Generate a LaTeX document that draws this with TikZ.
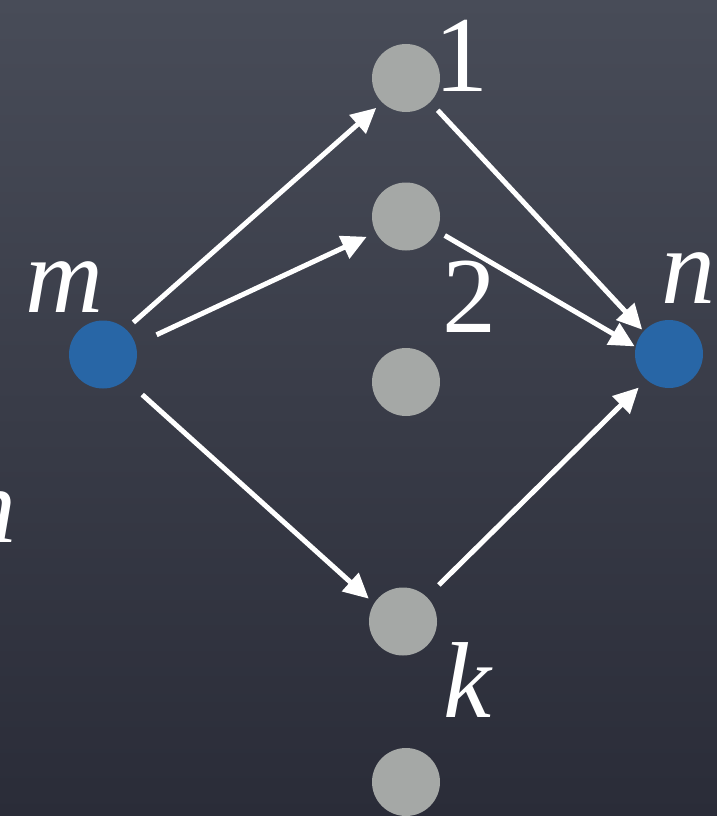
\documentclass[tikz,border=0pt]{standalone}
\usepackage{fontspec}
\setmainfont{Liberation Serif}
\usetikzlibrary{arrows.meta}
\definecolor{bgtop}{RGB}{72,76,88}
\definecolor{bgbot}{RGB}{42,44,56}
\definecolor{nodeblue}{RGB}{40,102,166}
\definecolor{nodegray}{RGB}{165,168,166}
\tikzset{
  dot/.style={circle, minimum size=68pt, inner sep=0pt, fill=#1},
  lbl/.style={text=white, inner sep=0pt, anchor=base, font=\fontsize{108}{108}\selectfont},
  arr/.style={draw=white, line width=5pt, -{Triangle[length=25pt,width=24pt]}},
}
\begin{document}
\begin{tikzpicture}[x=1pt,y=1pt]
\useasboundingbox (0,0) rectangle (717,-816);
\shade[top color=bgtop, bottom color=bgbot] (0,0) rectangle (717,-816);
\clip (0,0) rectangle (717,-816);
% nodes
\node[dot=nodeblue] (m) at (103,-354.5) {};
\node[dot=nodeblue] (n) at (669,-354) {};
\node[dot=nodegray] (a1) at (406,-78) {};
\node[dot=nodegray] (a2) at (406,-216.5) {};
\node[dot=nodegray] (a3) at (406,-382) {};
\node[dot=nodegray] (ak) at (403,-621.5) {};
\node[dot=nodegray] (a5) at (406,-782) {};
% labels
\node[lbl] (lm) at (64,-312) {\itshape m};
\node[lbl] (ln) at (688,-303) {\itshape n};
\node[lbl] (l1) at (461,-92) {1};
\node[lbl] (l2) at (469,-332) {2};
\node[lbl] (lk) at (467,-717) {\itshape k};
\node[lbl] (lleft) at (-10,-542) {\itshape n};
% connectors
\draw[arr, shorten <=10pt, shorten >=8pt] (m.48) -- (a1.226);
\draw[arr, shorten <=23pt, shorten >=10pt] (m.17) -- (a2.208);
\draw[arr, shorten <=11pt, shorten >=2pt] (a1.315) -- (n.138);
\draw[arr, shorten <=9pt, shorten >=1pt] (a2.335) -- (n.168);
\draw[arr, shorten <=22pt, shorten >=7pt] (m.312) -- (ak.148);
\draw[arr, shorten <=17pt, shorten >=11pt] (ak.46) -- (n.229);
\end{tikzpicture}
\end{document}
